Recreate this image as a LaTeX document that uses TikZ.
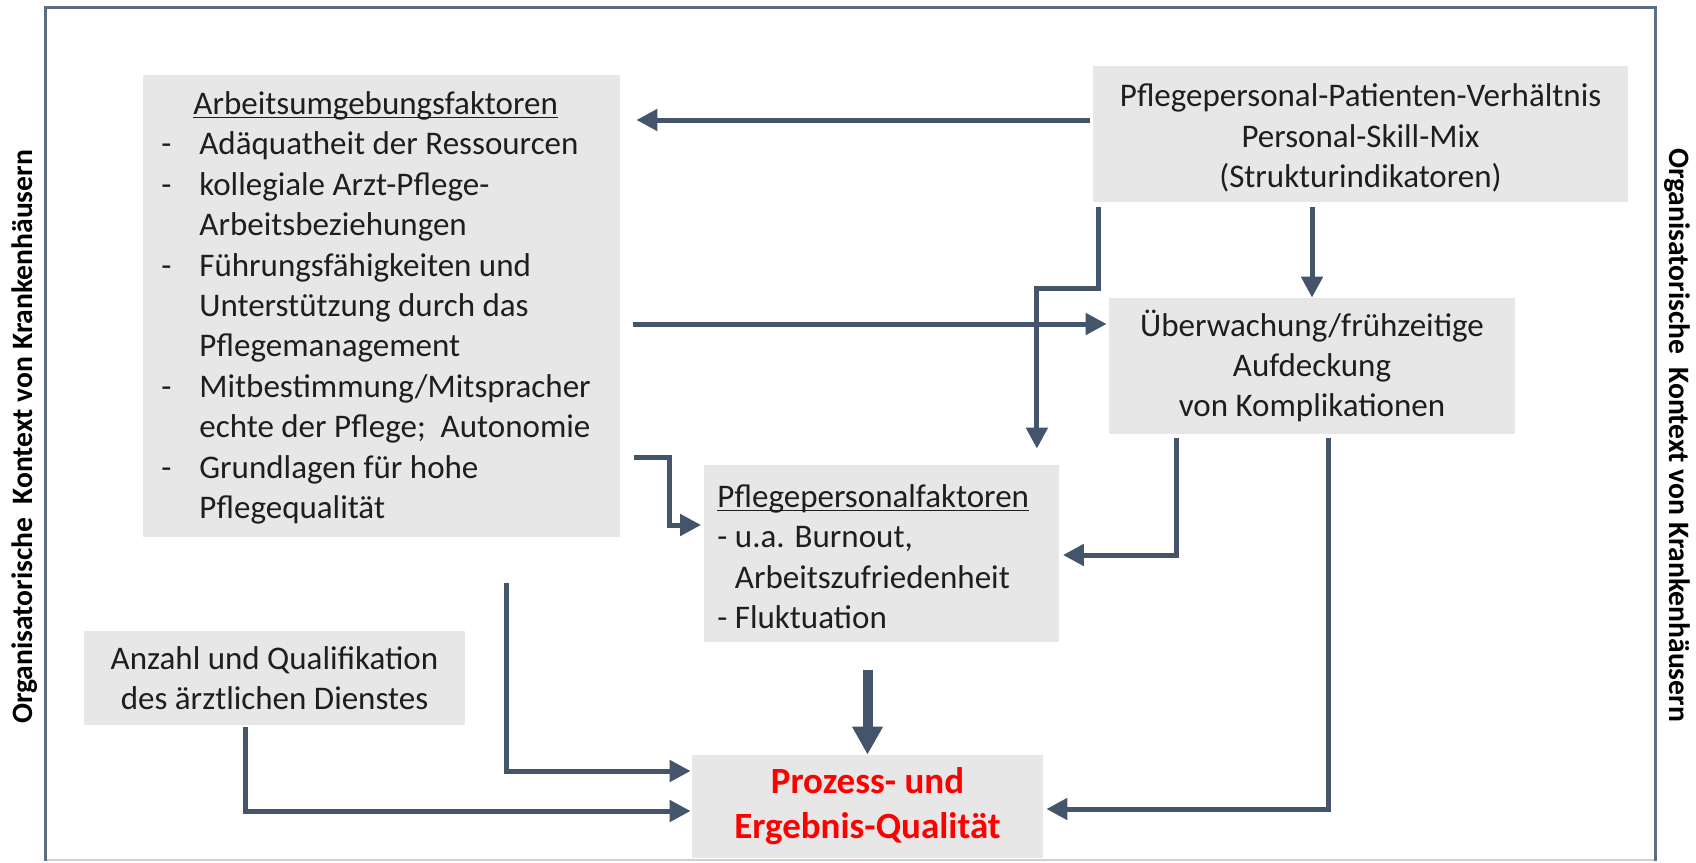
\documentclass[tikz,border=0pt]{standalone}
\usepackage{fontspec}
\setmainfont{Carlito}
\usetikzlibrary{arrows.meta,calc}
\definecolor{arrowc}{HTML}{44546A}
\definecolor{boxc}{HTML}{E7E7E7}
\definecolor{framec}{HTML}{5C6D81}
\definecolor{framelight}{HTML}{CFCFCF}
\definecolor{txtc}{HTML}{1E1E1E}
\newcommand\myul[1]{\setbox0\hbox{#1}\rlap{\rule[-2pt]{\wd0}{0.9pt}}#1}
\newcommand\dashitem{\makebox[19pt][l]{-}}
\newcommand\indentitem{\hspace*{19pt}}
\begin{document}
\begin{tikzpicture}[x=0.5pt,y=-0.5pt,
  box/.style={fill=boxc, draw=none, inner sep=0pt, text=txtc, align=center,
    font=\fontsize{16.5}{20.2}\selectfont},
  txtblock/.style={inner sep=0pt, text=txtc, align=left,
    font=\fontsize{16.5}{20.2}\selectfont},
  arr/.style={draw=arrowc, line width=2.5pt, line join=miter,
    -{Triangle[length=10.5pt,width=10.5pt]}},
  thickarr/.style={draw=arrowc, line width=5pt,
    -{Triangle[length=14pt,width=14.5pt]}},
  side/.style={inner sep=0pt, text=black, font=\fontsize{14.8}{17}\selectfont\bfseries}]
\useasboundingbox (0,0) rectangle (1696,862);
% frame
\draw[framelight, line width=1.2pt] (45,860) -- (1655,860);
\draw[framec, line width=1.5pt] (45,861) -- (45,7) -- (1655,7) -- (1655,861);
% side labels
\node[side, rotate=90] (lside) at (25,437) {Organisatorische\ \ Kontext von Krankenhäusern};
\node[side, rotate=-90] (rside) at (1677,435) {Organisatorische\ \ Kontext von Krankenhäusern};
% boxes
\node[box, minimum width=238.5pt, minimum height=231pt] (arb) at (381.5,306) {};
\node[txtblock, anchor=north west] (arbtext) at (161,86) {%
\rule{0pt}{14pt}\hspace*{16pt}\myul{Arbeitsumgebungsfaktoren}\\
\dashitem Adäquatheit der Ressourcen\\
\dashitem kollegiale Arzt-Pflege-\\
\indentitem Arbeitsbeziehungen\\
\dashitem Führungsfähigkeiten und\\
\indentitem Unterstützung durch das\\
\indentitem Pflegemanagement\\
\dashitem Mitbestimmung/Mitspracher\\
\indentitem echte der Pflege;\ \ Autonomie\\
\dashitem Grundlagen für hohe\\
\indentitem Pflegequalität};
\node[box, minimum width=267.5pt, minimum height=68pt] (pp) at (1360.5,134)
  {\rule{0pt}{15.4pt}Pflegepersonal-Patienten-Verhältnis\\Personal-Skill-Mix\\(Strukturindikatoren)};
\node[box, minimum width=203pt, minimum height=68pt] (ue) at (1312,366)
  {Überwachung/frühzeitige\\Aufdeckung\\von Komplikationen};
\node[box, minimum width=177.5pt, minimum height=88.5pt] (pf) at (881,553.5) {};
\node[txtblock, anchor=north west] (pftext) at (717,479) {%
\rule{0pt}{14pt}\myul{Pflegepersonalfaktoren}\\
- u.a. Burnout,\\
\hphantom{- }Arbeitszufriedenheit\\
- Fluktuation};
\node[box, minimum width=190.5pt, minimum height=47pt] (anz) at (274.5,678)
  {Anzahl und Qualifikation\\des ärztlichen Dienstes};
\node[box, minimum width=175.5pt, minimum height=51.5pt, text=red,
  font=\fontsize{18.5}{22.5}\selectfont\bfseries] (pq) at (867.5,806.5)
  {Prozess- und\\Ergebnis-Qualität};
% connectors
\draw[arr] ($(pp.west)+(-3,-14)$) -- ($(arb.east)+(16,-186)$);
\draw[arr] ($(arb.east)+(13,18)$) -- ($(ue.west)+(-2,-42)$);
\draw[arr] ($(pp.south west)+(6,5)$) -- ++(0,81) -| ($(pf.north east)+(-22,-16)$);
\draw[arr] ($(ue.north |- pp.south)+(0,5)$) -- (ue.north);
\draw[arr] ($(arb.east)+(14,151)$) -- ++(35,0) |- ($(pf.west)+(-2,-28.5)$);
\draw[arr] ($(ue.south west)+(68,4)$) |- ($(pf.east)+(4,1.5)$);
\draw[arr] ($(ue.south)+(16,4)$) |- ($(pq.east)+(3,2.5)$);
\draw[arr] ($(arb.south)+(124.5,46)$) |- ($(pq.west)+(-1,-35.5)$);
\draw[arr] ($(anz.south)+(-29,2)$) |- ($(pq.west)+(-1,4.5)$);
\draw[thickarr] ($(pq.north |- pf.south)+(0,28)$) -- (pq.north);
\end{tikzpicture}
\end{document}
